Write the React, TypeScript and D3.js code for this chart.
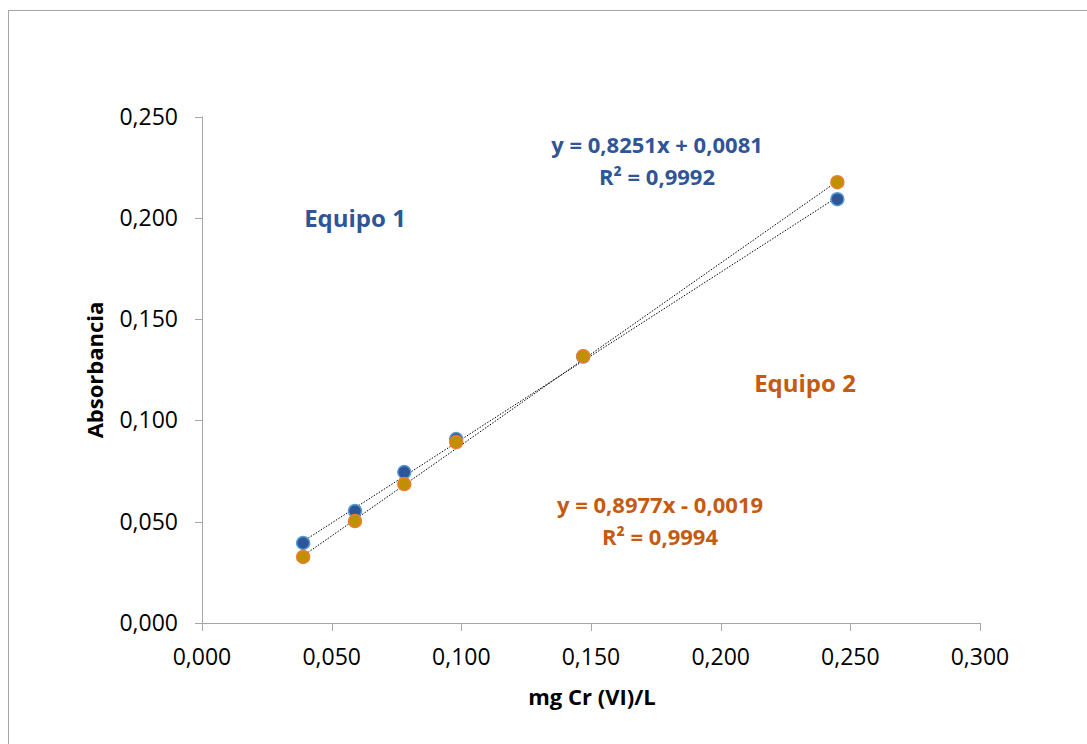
import React from 'react';
import * as d3 from 'd3';

// mg Cr (VI)/L
const concentrations = [0.039, 0.059, 0.078, 0.098, 0.147, 0.245];
const absEquipo1 = [0.0395, 0.0553, 0.0745, 0.0908, 0.1315, 0.2092];
const absEquipo2 = [0.0326, 0.0503, 0.0686, 0.0893, 0.1317, 0.2176];
const fit1 = { slope: 0.8251, intercept: 0.0081, r2: '0,9992', label: 'y = 0,8251x + 0,0081' };
const fit2 = { slope: 0.8977, intercept: -0.0019, r2: '0,9994', label: 'y = 0,8977x - 0,0019' };
const xTicks = [0, 0.05, 0.1, 0.15, 0.2, 0.25, 0.3];
const yTicks = [0, 0.05, 0.1, 0.15, 0.2, 0.25];

const W = 1087;
const H = 744;
const font = "'Open Sans', 'Liberation Sans', sans-serif";
const blue = '#2F5597';
const orange = '#C55A11';
const axisGray = '#A6A6A6';

const fmt = (v: number) => v.toFixed(3).replace('.', ',');

const App = () => {
  const x = d3.scaleLinear().domain([0, 0.3]).range([202, 980]);
  const y = d3.scaleLinear().domain([0, 0.25]).range([623, 116.5]);

  const xMin = d3.min(concentrations) as number;
  const xMax = d3.max(concentrations) as number;
  const trend = (f: { slope: number; intercept: number }) =>
    d3.line<number>().x(d => x(d)).y(d => y(f.slope * d + f.intercept))([xMin, xMax]) as string;

  const series = [
    { values: absEquipo1, fill: '#2E5597', stroke: '#5B9BD5' },
    { values: absEquipo2, fill: '#BF9000', stroke: '#ED7D31' },
  ];

  return (
    <svg width={W} height={H} style={{ position: 'absolute', left: 0, top: 0, background: 'white' }}>
      <rect x={8.5} y={10.5} width={W + 20} height={H + 20} fill="white" stroke={axisGray} strokeWidth={1} />

      {/* axes */}
      <line x1={x(0)} x2={x(0.3)} y1={y(0) + 0.5} y2={y(0) + 0.5} stroke={axisGray} />
      <line x1={x(0) + 0.5} x2={x(0) + 0.5} y1={y(0.25)} y2={y(0)} stroke={axisGray} />
      {yTicks.map(t => (
        <g key={'y' + t}>
          <line x1={x(0) - 7} x2={x(0)} y1={Math.round(y(t)) + 0.5} y2={Math.round(y(t)) + 0.5} stroke={axisGray} />
          <text x={178} y={y(t) + 8} textAnchor="end" fontFamily={font} fontSize={23} fill="#000">{fmt(t)}</text>
        </g>
      ))}
      {xTicks.map(t => (
        <g key={'x' + t}>
          <line x1={Math.round(x(t)) + 0.5} x2={Math.round(x(t)) + 0.5} y1={y(0)} y2={y(0) + 8} stroke={axisGray} />
          <text x={x(t)} y={665} textAnchor="middle" fontFamily={font} fontSize={23} fill="#000">{fmt(t)}</text>
        </g>
      ))}

      {/* trendlines */}
      <path d={trend(fit1)} fill="none" stroke="#000" strokeWidth={1} strokeDasharray="1.5,1.5" />
      <path d={trend(fit2)} fill="none" stroke="#000" strokeWidth={1} strokeDasharray="1.5,1.5" />

      {/* markers */}
      {series.map((s, i) => (
        <g key={i}>
          {s.values.map((v, j) => (
            <circle key={j} cx={x(concentrations[j])} cy={y(v)} r={6.5} fill={s.fill} stroke={s.stroke} strokeWidth={1.5} />
          ))}
        </g>
      ))}

      {/* annotations */}
      <g fontFamily={font} fontWeight="bold" textAnchor="middle">
        <text x={657} y={153} fontSize={22} fill={blue}>{fit1.label}</text>
        <text x={657} y={185} fontSize={22} fill={blue}>R² = {fit1.r2}</text>
        <text x={355} y={227} fontSize={24} fill={blue}>Equipo 1</text>
        <text x={805} y={392} fontSize={24} fill={orange}>Equipo 2</text>
        <text x={660} y={513} fontSize={22} fill={orange}>{fit2.label}</text>
        <text x={660} y={545} fontSize={22} fill={orange}>R² = {fit2.r2}</text>
        <text x={592} y={705} fontSize={22} fill="#000">mg Cr (VI)/L</text>
        <text transform="translate(103,370) rotate(-90)" fontSize={22} fill="#000">Absorbancia</text>
      </g>
    </svg>
  );
};

export default App;
